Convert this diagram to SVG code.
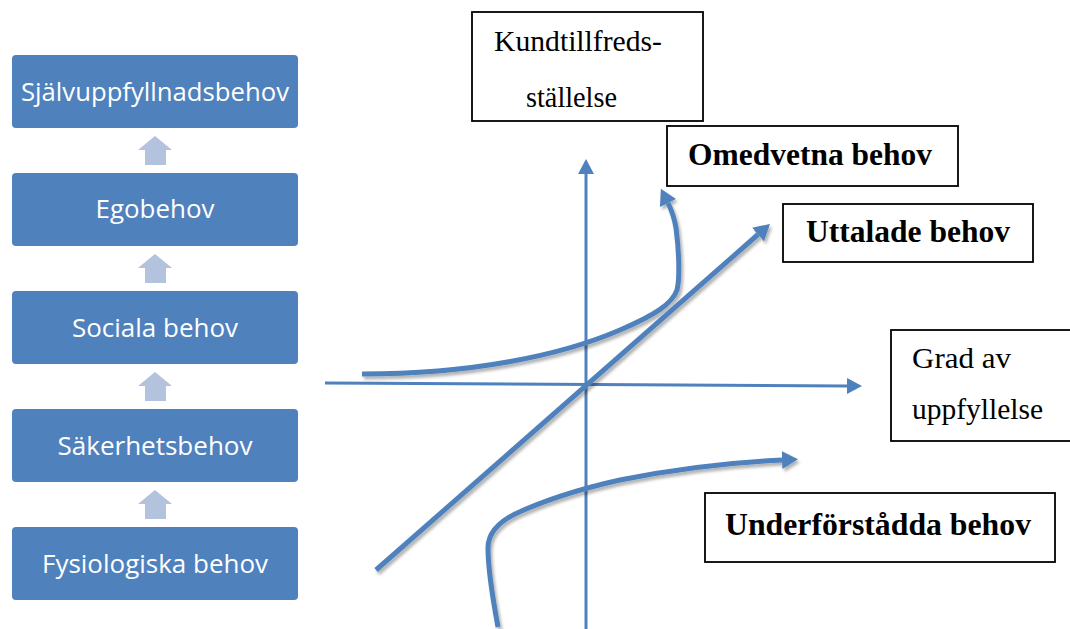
<svg xmlns="http://www.w3.org/2000/svg" width="1070" height="629" viewBox="0 0 1070 629">
<style>
.lv{fill:#4f81bd}
.lt{fill:#fff;font-family:"Open Sans","Liberation Sans",sans-serif;font-size:26px;text-anchor:middle}
.up{fill:#b3c2dd}
.bx{fill:#fff;stroke:#000;stroke-width:1.8}
.rt{fill:#000;font-family:"Liberation Serif","Times New Roman",serif;font-size:30px}
.bt{fill:#000;font-family:"Liberation Serif","Times New Roman",serif;font-size:32px;font-weight:bold}
.ax{fill:none;stroke:#4f81bd;stroke-width:3}
.cv{fill:none;stroke:#4f81bd;stroke-width:5;stroke-linecap:butt}
</style>
<defs>
<marker id="ah" markerUnits="userSpaceOnUse" markerWidth="16" markerHeight="16" refX="0" refY="8" orient="auto">
<path d="M0,0 L15,8 L0,16 z" fill="#4f81bd"/>
</marker>
<marker id="ah2" markerUnits="userSpaceOnUse" markerWidth="17" markerHeight="18" refX="0" refY="9" orient="auto">
<path d="M0,0 L16,9 L0,18 z" fill="#4f81bd"/>
</marker>
<filter id="sh" x="-10%" y="-10%" width="120%" height="120%">
<feDropShadow dx="2" dy="3" stdDeviation="1.5" flood-color="#000" flood-opacity="0.3"/>
</filter>
</defs>

<g id="hierarchy">
<g id="n-sjalv"><rect class="lv" x="12" y="55" width="286" height="73" rx="4"/><text class="lt" x="155" y="101" textLength="268" lengthAdjust="spacingAndGlyphs">Självuppfyllnadsbehov</text></g>
<g id="n-ego"><rect class="lv" x="12" y="173" width="286" height="73" rx="4"/><text class="lt" x="155" y="218" textLength="119" lengthAdjust="spacingAndGlyphs">Egobehov</text></g>
<g id="n-social"><rect class="lv" x="12" y="291" width="286" height="73" rx="4"/><text class="lt" x="155" y="337" textLength="166" lengthAdjust="spacingAndGlyphs">Sociala behov</text></g>
<g id="n-saker"><rect class="lv" x="12" y="409" width="286" height="73" rx="4"/><text class="lt" x="155" y="455" textLength="195" lengthAdjust="spacingAndGlyphs">Säkerhetsbehov</text></g>
<g id="n-fys"><rect class="lv" x="12" y="527" width="286" height="73" rx="4"/><text class="lt" x="155" y="573" textLength="226" lengthAdjust="spacingAndGlyphs">Fysiologiska behov</text></g>
<g id="up-arrows">
<polygon class="up" points="155,136 172,150 166,150 166,165 145,165 145,150 138,150"/>
<polygon class="up" points="155,254 172,268 166,268 166,283 145,283 145,268 138,268"/>
<polygon class="up" points="155,372 172,386 166,386 166,401 145,401 145,386 138,386"/>
<polygon class="up" points="155,490 172,504 166,504 166,519 145,519 145,504 138,504"/>
</g>
</g>

<g id="connectors">
<line class="ax" x1="586" y1="629" x2="586" y2="174" marker-end="url(#ah)"/>
<line class="ax" x1="325" y1="383" x2="847" y2="386" marker-end="url(#ah)"/>
<g filter="url(#sh)">
<line class="cv" x1="376" y1="570" x2="758" y2="234.5" marker-end="url(#ah2)"/>
<path class="cv" d="M362,374 C470,374 560,356 620,330 C655,315 672,304 677,290 C680,278 679,250 676,228 C674,216 671,209 668,203" marker-end="url(#ah2)"/>
<path class="cv" d="M498,627 C493,600 488,570 488,548 C488,535 495,524 515,514 C545,500 575,490 620,480 C680,468 740,462 782,460" marker-end="url(#ah2)"/>
</g>
</g>

<g id="n-kund"><rect class="bx" x="472" y="12" width="231" height="109"/>
<text class="rt" x="494" y="51" textLength="168" lengthAdjust="spacingAndGlyphs">Kundtillfreds-</text>
<text class="rt" x="526" y="107" textLength="91" lengthAdjust="spacingAndGlyphs">ställelse</text></g>
<g id="n-omedvetna"><rect class="bx" x="667" y="126" width="291" height="60"/>
<text class="bt" x="688" y="165" textLength="244" lengthAdjust="spacingAndGlyphs">Omedvetna behov</text></g>
<g id="n-uttalade"><rect class="bx" x="783" y="204" width="250" height="58"/>
<text class="bt" x="806" y="242" textLength="204" lengthAdjust="spacingAndGlyphs">Uttalade behov</text></g>
<g id="n-grad"><rect class="bx" x="891" y="330" width="190" height="111"/>
<text class="rt" x="912" y="368" textLength="99" lengthAdjust="spacingAndGlyphs">Grad av</text>
<text class="rt" x="912" y="419" textLength="131" lengthAdjust="spacingAndGlyphs">uppfyllelse</text></g>
<g id="n-under"><rect class="bx" x="705" y="493" width="350" height="69"/>
<text class="bt" x="725" y="535" textLength="306" lengthAdjust="spacingAndGlyphs">Underförstådda behov</text></g>
</svg>
